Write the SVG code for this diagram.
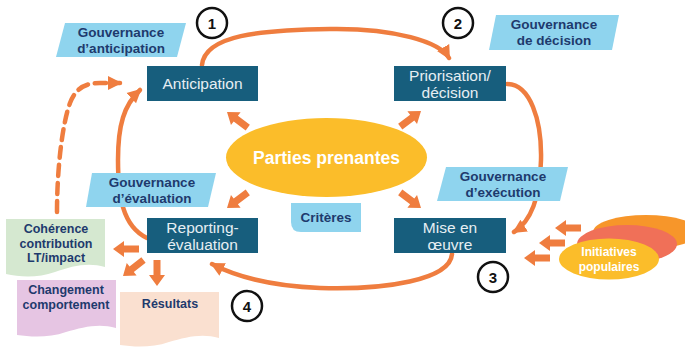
<svg xmlns="http://www.w3.org/2000/svg" width="685" height="347" viewBox="0 0 685 347">
<defs>
<marker id="ah" markerUnits="userSpaceOnUse" markerWidth="16" markerHeight="16" refX="12" refY="8" orient="auto">
<path d="M0,1 L14,8 L0,15 Z" fill="#ef7d3f"/>
</marker>
<path id="blk" d="M0,0 L11,-8 L11,-3.5 L26,-3.5 L26,3.5 L11,3.5 L11,8 Z" fill="#ef7d3f"/>
<style>
.box{fill:#175e7d}
.bt{font-family:"Liberation Sans",Arial,sans-serif;font-size:15.5px;fill:#e6eef3;text-anchor:middle}
.gov{fill:#8fd4ee}
.gt{font-family:"Liberation Sans",Arial,sans-serif;font-size:13.5px;font-weight:bold;fill:#1e3a6d;text-anchor:middle}
.st{font-family:"Liberation Sans",Arial,sans-serif;font-size:12.5px;font-weight:bold;fill:#1e3a6d;text-anchor:middle}
.cur{fill:none;stroke:#ef7d3f;stroke-width:4.5;stroke-linecap:round}
.num{fill:#fff;stroke:#111;stroke-width:2.5}
.nt{font-family:"Liberation Sans",Arial,sans-serif;font-size:15px;font-weight:bold;fill:#111;text-anchor:middle}
.wt{font-family:"Liberation Sans",Arial,sans-serif;font-weight:bold;fill:#fff;text-anchor:middle}
</style>
</defs>
<rect width="685" height="347" fill="#fff"/>

<g id="connectors">
<path class="cur" d="M202,65 C205,35 260,30 330,29 C395,28 440,42 449,58" marker-end="url(#ah)"/>
<path class="cur" d="M507,84 C530,84 542,120 541,160 C540,200 530,222 514,232" marker-end="url(#ah)"/>
<path class="cur" d="M452,254 C450,280 385,290 320,288 C270,286 235,276 212,264" marker-end="url(#ah)"/>
<path class="cur" d="M147,238 C122,226 118,195 118,160 C118,125 124,105 140,90" marker-end="url(#ah)"/>
<path class="cur" d="M57,212 C57,170 62,125 70,103 C76,88 85,83 100,83 L120,83" stroke-dasharray="11,7" stroke-linecap="butt" stroke-width="5" marker-end="url(#ah)"/>
<use href="#blk" transform="translate(227,112) rotate(37)"/>
<use href="#blk" transform="translate(421,111) rotate(143)"/>
<use href="#blk" transform="translate(227,208) rotate(-37)"/>
<use href="#blk" transform="translate(421,208) rotate(-143)"/>
<use href="#blk" transform="translate(555,228)"/>
<use href="#blk" transform="translate(539,243)"/>
<use href="#blk" transform="translate(524,258)"/>
<use href="#blk" transform="translate(113,249)"/>
<use href="#blk" transform="translate(123,276) rotate(-38)"/>
<use href="#blk" transform="translate(157,286) rotate(-90)"/>
</g>

<g id="parties">
<ellipse cx="326.5" cy="157.5" rx="100.5" ry="39.5" fill="#fbbd2a"/>
<text class="wt" x="326.5" y="163.5" font-size="17.5">Parties prenantes</text>
</g>

<g id="anticipation">
<rect class="box" x="147" y="66" width="111" height="35"/>
<text class="bt" x="202.5" y="89">Anticipation</text>
</g>
<g id="priorisation">
<rect class="box" x="394" y="66" width="112" height="35"/>
<text class="bt" x="450" y="81">Priorisation/</text>
<text class="bt" x="450" y="98">décision</text>
</g>
<g id="reporting">
<rect class="box" x="147" y="218" width="111" height="35"/>
<text class="bt" x="202.5" y="233">Reporting-</text>
<text class="bt" x="202.5" y="250">évaluation</text>
</g>
<g id="mise">
<rect class="box" x="394" y="218" width="112" height="35"/>
<text class="bt" x="450" y="233">Mise en</text>
<text class="bt" x="450" y="250">œuvre</text>
</g>

<g id="gov-anticipation">
<polygon class="gov" points="65,23 186,23 177,57 56,57"/>
<text class="gt" x="121" y="37">Gouvernance</text>
<text class="gt" x="121" y="53">d’anticipation</text>
</g>
<g id="gov-decision">
<polygon class="gov" points="496,15 619,15 612,50 489,50"/>
<text class="gt" x="554" y="29">Gouvernance</text>
<text class="gt" x="554" y="45">de décision</text>
</g>
<g id="gov-evaluation">
<polygon class="gov" points="92,173 216,173 208,207 86,207"/>
<text class="gt" x="152" y="187">Gouvernance</text>
<text class="gt" x="152" y="203">d’évaluation</text>
</g>
<g id="gov-execution">
<polygon class="gov" points="446,167 568,167 560,201 437,201"/>
<text class="gt" x="503" y="181">Gouvernance</text>
<text class="gt" x="503" y="197">d’exécution</text>
</g>
<g id="criteres">
<path class="gov" d="M291,203 H361 V232 H301 Q291,232 291,222 Z"/>
<text class="gt" x="326" y="222">Critères</text>
</g>

<g id="n1"><circle class="num" cx="212" cy="23" r="15"/><text class="nt" x="212" y="28.5">1</text></g>
<g id="n2"><circle class="num" cx="458" cy="23" r="15"/><text class="nt" x="458" y="28.5">2</text></g>
<g id="n3"><circle class="num" cx="493" cy="277" r="15"/><text class="nt" x="493" y="282.5">3</text></g>
<g id="n4"><circle class="num" cx="247" cy="306" r="15"/><text class="nt" x="247" y="311.5">4</text></g>

<g id="coherence">
<path d="M6,219 H105 V267 C88,262 72,266 55,272 C38,278 20,277 6,274 Z" fill="#d5e8d0"/>
<text class="st" x="56" y="233">Cohérence</text>
<text class="st" x="56" y="247.5">contribution</text>
<text class="st" x="56" y="262">LT/impact</text>
</g>
<g id="changement">
<path d="M17,280 H116 V328 C99,323 83,327 66,332 C49,338 31,337 17,335 Z" fill="#e6c5e3"/>
<text class="st" x="66" y="294">Changement</text>
<text class="st" x="66" y="309">comportement</text>
</g>
<g id="resultats">
<path d="M120,292 H219 V338 C202,333 186,337 169,342 C152,348 134,347 120,345 Z" fill="#fae0d0"/>
<text class="st" x="170" y="308">Résultats</text>
</g>

<g id="initiatives">
<ellipse cx="646" cy="232" rx="53" ry="17" fill="#f7962a"/>
<ellipse cx="627" cy="244" rx="50" ry="19" fill="#f07058"/>
<ellipse cx="609" cy="259" rx="50" ry="20.5" fill="#fbbd2a"/>
<text class="wt" x="609" y="256" font-size="12">Initiatives</text>
<text class="wt" x="609" y="271" font-size="12">populaires</text>
</g>
</svg>
